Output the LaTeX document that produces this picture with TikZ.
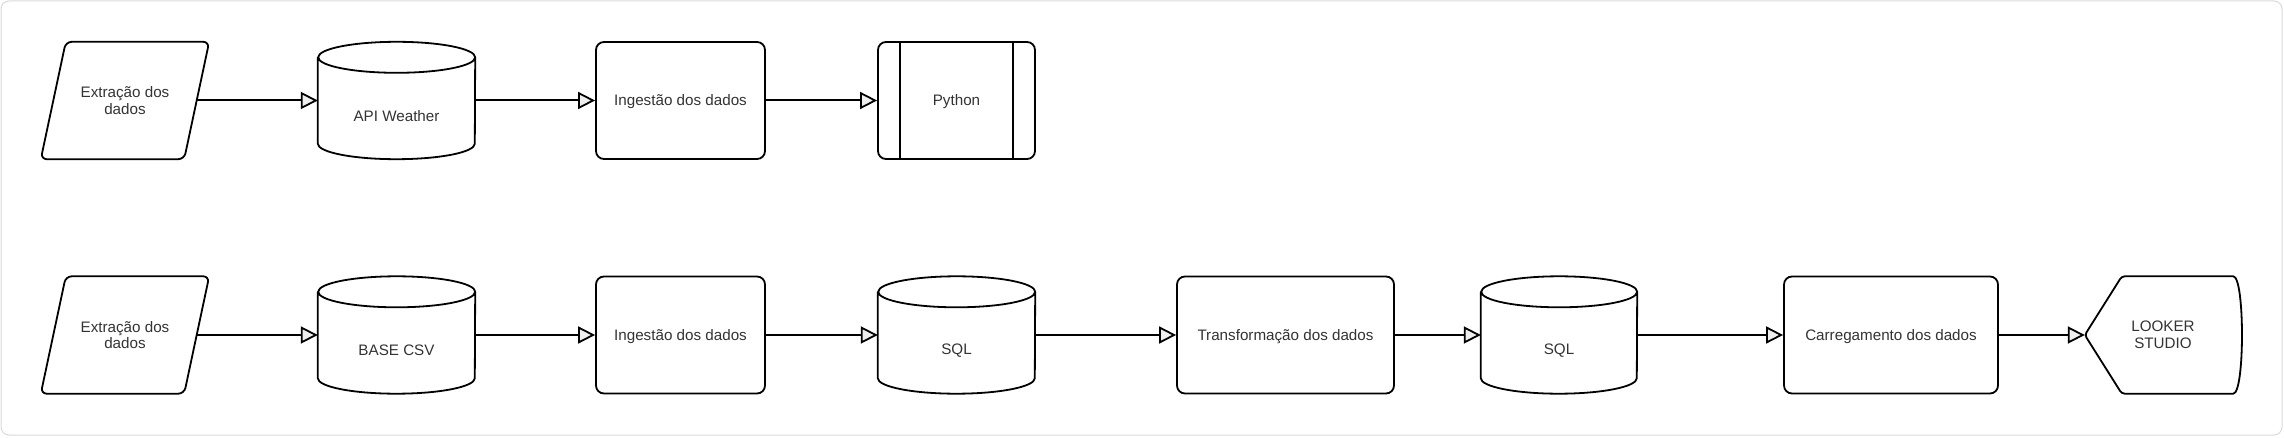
\documentclass[tikz,border=0pt]{standalone}
\usepackage{fontspec}
\setmainfont{Liberation Sans}
\usetikzlibrary{arrows.meta}

\definecolor{txt}{HTML}{333333}
\definecolor{frame}{HTML}{DADADA}
\definecolor{tipfill}{HTML}{EEEEEE}

\tikzset{
  base/.style={minimum width=#1, inner sep=0pt, align=center, text=txt,
    font=\fontsize{15.2}{16.5}\selectfont},
  box/.style={base=#1, draw, line width=1.8pt, rounded corners=8pt, minimum height=117pt,
    text height=12pt, text depth=1pt},
  proc/.style={box=#1, path picture={
      \draw[line width=1.5pt] ([xshift=22pt]path picture bounding box.north west)
        -- ([xshift=22pt]path picture bounding box.south west);
      \draw[line width=1.5pt] ([xshift=-22pt]path picture bounding box.north east)
        -- ([xshift=-22pt]path picture bounding box.south east);}},
  inout/.style={base=#1, minimum height=117pt, append after command={\pgfextra{
      \draw[line width=1.8pt, rounded corners=6pt]
        ([xshift=-12.5pt]\tikzlastnode.south west) -- ([xshift=12.5pt]\tikzlastnode.north west)
        -- ([xshift=12.5pt]\tikzlastnode.north east) -- ([xshift=-12.5pt]\tikzlastnode.south east)
        -- cycle;}}},
  db/.style={base=#1, minimum height=86pt, append after command={\pgfextra{
      \draw[line width=1.8pt]
        ([yshift=15.5pt]\tikzlastnode.north west) -- ([yshift=15.5pt]\tikzlastnode.south west)
        arc[start angle=180, end angle=360, x radius=#1/2, y radius=15.5pt]
        -- ([yshift=15.5pt]\tikzlastnode.north east)
        arc[start angle=0, end angle=180, x radius=#1/2, y radius=15.5pt]
        arc[start angle=180, end angle=360, x radius=#1/2, y radius=15.5pt];}}},
  screen/.style={base=#1, minimum height=117pt, append after command={\pgfextra{
      \draw[line width=1.8pt, rounded corners=3pt]
        (\tikzlastnode.west) -- ([xshift=37pt]\tikzlastnode.north west)
        -- ([xshift=-11pt]\tikzlastnode.north east)
        .. controls ([xshift=3.7pt]\tikzlastnode.north east) and ([xshift=3.7pt]\tikzlastnode.south east)
        .. ([xshift=-11pt]\tikzlastnode.south east)
        -- ([xshift=37pt]\tikzlastnode.south west) -- cycle;}}},
  flow/.style={line width=2pt, -{Triangle[length=17pt, width=17pt, fill=tipfill, line width=1.8pt]}}
}

\begin{document}
\begin{tikzpicture}[x=1pt, y=1pt]

    % Canvas
    \useasboundingbox (0,0) rectangle (2284,437);
    \draw[frame, line width=1pt, rounded corners=8pt] (1,2) rectangle (2282,436);

    % Upper flow
    \node[inout=143pt] (ext1) at (125,336.5) {Extração dos\\dados};
    \node[db=157pt] (api1) at (396.5,321) {API Weather};
    \node[box=169pt] (ing1) at (680.5,336.5) {Ingestão dos dados};
    \node[proc=157pt] (py1) at (956.5,336.5) {Python};

    % Lower flow
    \node[inout=143pt] (ext2) at (125,102) {Extração dos\\dados};
    \node[db=157pt] (csv2) at (396.5,86.5) {BASE CSV};
    \node[box=169pt] (ing2) at (680.5,102) {Ingestão dos dados};
    \node[db=157pt] (sqlA) at (956.5,86.5) {SQL};
    \node[box=217pt] (trans) at (1285.5,102) {Transformação dos dados};
    \node[db=156pt] (sqlB) at (1559,86.5) {SQL};
    \node[box=214pt] (carr) at (1891,102) {Carregamento dos dados};
    \node[screen=156pt] (look) at (2163,102) {LOOKER\\STUDIO};

    % Connectors into and out of the cylinders
    \draw[flow] (ext1.east) -- (api1.west |- ext1.east);
    \draw[flow] (api1.east |- ing1) -- (ing1);
    \draw[flow] (ext2.east) -- (csv2.west |- ext2.east);
    \draw[flow] (csv2.east |- ing2) -- (ing2);
    \draw[flow] (ing2) -- (sqlA.west |- ing2);
    \draw[flow] (sqlA.east |- trans) -- (trans);
    \draw[flow] (trans) -- (sqlB.west |- trans);
    \draw[flow] (sqlB.east |- carr) -- (carr);

    % Box to box
    \foreach \a/\b in {ing1/py1, carr/look}
        \draw[flow] (\a) -- (\b);

\end{tikzpicture}
\end{document}
